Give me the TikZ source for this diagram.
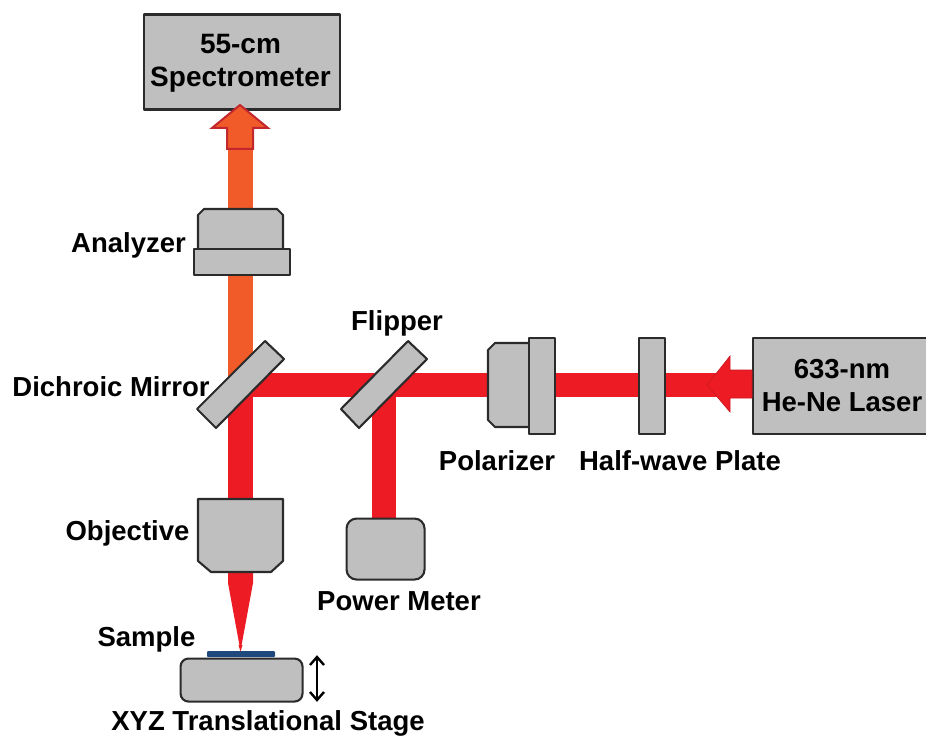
\documentclass[tikz,border=0pt]{standalone}
\usepackage{fontspec}
\setmainfont{Liberation Sans}[BoldFont={Liberation Sans Bold}]
\definecolor{beamred}{HTML}{ED1C24}
\definecolor{beamorange}{HTML}{F15A29}
\definecolor{arrowedge}{HTML}{C1272D}
\definecolor{partgray}{HTML}{BFBFBF}
\definecolor{partedge}{HTML}{2B2B2B}
\definecolor{samplenavy}{HTML}{1F497D}
\tikzset{
  part/.style={fill=partgray,draw=partedge,line width=2.1pt,line join=round},
  boxnode/.style={part,rectangle,inner sep=0pt,anchor=north west,align=center},
  lbl/.style={font=\fontsize{27.5}{33}\selectfont\bfseries,inner sep=0pt,text=black},
  redbeam/.style={draw=beamred,line width=24.5pt},
  orangebeam/.style={draw=beamorange,line width=24.5pt}
}
\begin{document}
\begin{tikzpicture}[x=1pt,y=-1pt]
\useasboundingbox (0,0) rectangle (926,738);
% beam anchor points
\coordinate (mirrorC) at (240.5,385);
\coordinate (flipC) at (384,385);
\coordinate (laserOut) at (752,385);
\coordinate (specIn) at (240.5,150);
\coordinate (objTop) at (240.5,505);
\coordinate (meterTop) at (384,522);
% beams
\draw[orangebeam] (specIn) -- (mirrorC);
\draw[redbeam] (laserOut) -- (mirrorC);
\draw[redbeam] (mirrorC) -- (objTop);
\draw[redbeam] (flipC) -- (meterTop);
% focused cone
\fill[beamred] (228,570) -- (253,570) -- (253,583) -- (240.5,651) -- (228,583) -- cycle;
% boxes
\node[boxnode,minimum width=196pt,minimum height=95pt] (spec) at (142.5,13.5) {};
\node[lbl,font=\fontsize{28}{33}\selectfont\bfseries,align=center] (specT) at (240.5,63.5) {55-cm\\Spectrometer};
\node[boxnode,minimum width=174pt,minimum height=96pt] (laser) at (752,336.5) {};
\node[lbl,font=\fontsize{27.5}{33}\selectfont\bfseries,align=center] (laserT) at (842,386) {633-nm\\He-Ne Laser};
% output arrow
\draw[fill=beamorange,draw=arrowedge,line width=2pt,line join=miter]
  (240,105) -- (268,128) -- (253,128) -- (253,149) -- (227,149) -- (227,128) -- (212,128) -- cycle;
% laser arrow
\fill[beamred,draw=beamred!85!black,line width=.6pt]
  (707,385) -- (730,356) -- (730,370) -- (752,370) -- (752,398) -- (730,398) -- (730,412) -- cycle;
% analyzer
\draw[part] (198,248) -- (198,215) -- (204,209) -- (277,209) -- (283,215) -- (283,248);
\node[part,rectangle,inner sep=0pt,anchor=north west,minimum width=96pt,minimum height=26pt] (analyzerPlate) at (192.5,248) {};
% mirrors
\draw[part] (265,341) -- (284,359) -- (216,428) -- (197,409) -- cycle;
\draw[part] (408,341) -- (427,359) -- (359,428) -- (341,409) -- cycle;
% polarizer
\draw[part] (528,343) -- (495,343) -- (488,350) -- (488,420) -- (495,427) -- (528,427);
\node[part,rectangle,inner sep=0pt,anchor=north west,minimum width=25.5pt,minimum height=96pt] (polPlate) at (528,336.5) {};
% half-wave plate
\node[part,rectangle,inner sep=0pt,anchor=north west,minimum width=26pt,minimum height=96pt] (hwp) at (637.5,336.5) {};
% objective
\draw[part] (198,499) -- (283,499) -- (283,561) -- (271,572) -- (211,572) -- (198,561) -- cycle;
% power meter
\node[part,rectangle,rounded corners=10pt,inner sep=0pt,anchor=north west,minimum width=78pt,minimum height=61pt] (meter) at (345.5,517.5) {};
% stage and sample
\node[part,rectangle,rounded corners=8pt,inner sep=0pt,anchor=north west,minimum width=122pt,minimum height=43pt] (stage) at (179.5,657.5) {};
\fill[samplenavy,rounded corners=1pt] (207,657) rectangle (275,651);
\fill[beamred] (238.5,645) -- (242.5,645) -- (240.5,651.5) -- cycle;
% travel arrow
\coordinate (travelA) at (317,657);
\coordinate (travelB) at (317,700);
\draw[line width=2.4pt,black] (travelA) -- (travelB);
\draw[line width=2.4pt,black] (310,665) -- (travelA) -- (324,665);
\draw[line width=2.4pt,black] (310,692) -- (travelB) -- (324,692);
% labels
\node[lbl] (lAnalyzer) at (128.5,245) {Analyzer};
\node[lbl] (lFlipper) at (397,323) {Flipper};
\node[lbl] (lDichroic) at (111,387) {Dichroic Mirror};
\node[lbl] (lPolarizer) at (497,461) {Polarizer};
\node[lbl] (lHalf) at (680,461) {Half-wave Plate};
\node[lbl] (lObjective) at (127.5,533) {Objective};
\node[lbl] (lPower) at (399,601) {Power Meter};
\node[lbl] (lSample) at (146.5,639) {Sample};
\node[lbl] (lStage) at (268,723) {XYZ Translational Stage};
\end{tikzpicture}
\end{document}
